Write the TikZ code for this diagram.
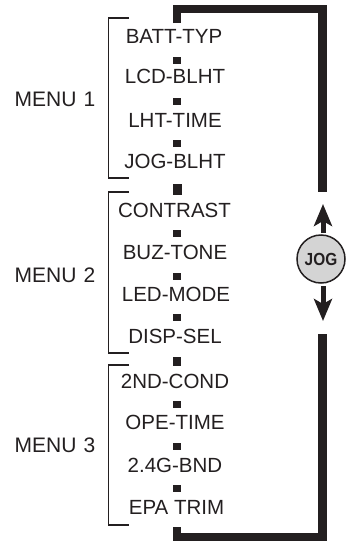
\documentclass[tikz,border=0pt]{standalone}
\usepackage{fontspec}
\setmainfont{Liberation Sans}
\usetikzlibrary{arrows.meta}
\definecolor{ink}{HTML}{231F20}
\begin{document}
\begin{tikzpicture}[x=1pt,y=-1pt,
  item/.style={font=\fontsize{20.5}{23}\selectfont, text=ink, inner sep=0pt, text height=14.5pt, text depth=0pt},
  menulabel/.style={font=\fontsize{21}{23}\selectfont, text=ink, inner sep=0pt, text height=15pt, text depth=0pt},
  sq/.style={fill=ink, inner sep=0pt, minimum width=8.5pt, minimum height=7pt},
  bigsq/.style={fill=ink, inner sep=0pt, minimum width=9pt, minimum height=11pt},
  brace/.style={draw=ink, line width=1.5pt},
  thick/.style={draw=ink, line width=8.5pt},
  arr/.style={draw=ink, line width=5pt, -{Stealth[length=22pt,width=18pt,inset=5pt]}},
  jogc/.style={circle, draw=ink, line width=1.5pt, fill=black!17, minimum size=48pt, inner sep=0pt, font=\bfseries\fontsize{17.5}{19}\selectfont, text=ink}
]
\useasboundingbox (0,0) rectangle (350,541);
% items
\node[item] (i1) at (174,36) {BATT-TYP};
\node[item] (i2) at (175,76) {LCD-BLHT};
\node[item] (i3) at (175,120) {LHT-TIME};
\node[item] (i4) at (175,161) {JOG-BLHT};
\node[item] (i5) at (174.5,210) {CONTRAST};
\node[item] (i6) at (175,252) {BUZ-TONE};
\node[item] (i7) at (176,294) {LED-MODE};
\node[item] (i8) at (175,336) {DISP-SEL};
\node[item] (i9) at (175,381) {2ND-COND};
\node[item] (i10) at (175,422) {OPE-TIME};
\node[item] (i11) at (175,465) {2.4G-BND};
\node[item] (i12) at (176.5,507) {EPA TRIM};
% squares
\node[sq] (s1) at (177,60) {};
\node[sq] (s2) at (177,101) {};
\node[sq] (s3) at (177,143) {};
\node[bigsq] (s4) at (177,189) {};
\node[sq] (s5) at (177,233) {};
\node[sq] (s6) at (177,276) {};
\node[sq] (s7) at (177,317) {};
\node[sq, minimum height=9pt] (s8) at (177,361.5) {};
\node[sq] (s9) at (177,404) {};
\node[sq] (s10) at (177,446) {};
\node[sq] (s11) at (177,488) {};
% menu labels and brackets
\node[menulabel] (m1) at (55,98.5) {MENU\hspace{7pt}1};
\node[menulabel] (m2) at (55,275) {MENU\hspace{7pt}2};
\node[menulabel] (m3) at (55,445) {MENU\hspace{7pt}3};
\draw[brace] (129,18) -- (108.5,18) -- (108.5,178) -- (129,178);
\draw[brace] (129,192) -- (108.5,192) -- (108.5,353) -- (129,353);
\draw[brace] (129,365) -- (108.5,365) -- (108.5,525) -- (129,525);
% jog
\node[jogc] (jog) at (321,259) {\scalebox{0.88}[1]{JOG}};
\coordinate (tTop) at (177,23);
\coordinate (tCorner) at (322.5,9);
\coordinate (tEnd) at (322.5,191.5);
\coordinate (bTop) at (177,527);
\coordinate (bCorner) at (322.5,537.5);
\coordinate (bEnd) at (322.5,333.5);
\draw[thick, line join=miter] (tTop) -- (tTop |- tCorner) -- (tCorner) -- (tEnd);
\draw[thick, line join=miter] (bTop) -- (bTop |- bCorner) -- (bCorner) -- (bEnd);
\coordinate (uStart) at (323,233);
\coordinate (uTip) at (323,204);
\coordinate (dStart) at (323,286);
\coordinate (dTip) at (323,321);
\draw[arr] (uStart) -- (uTip);
\draw[arr] (dStart) -- (dTip);
\end{tikzpicture}
\end{document}
